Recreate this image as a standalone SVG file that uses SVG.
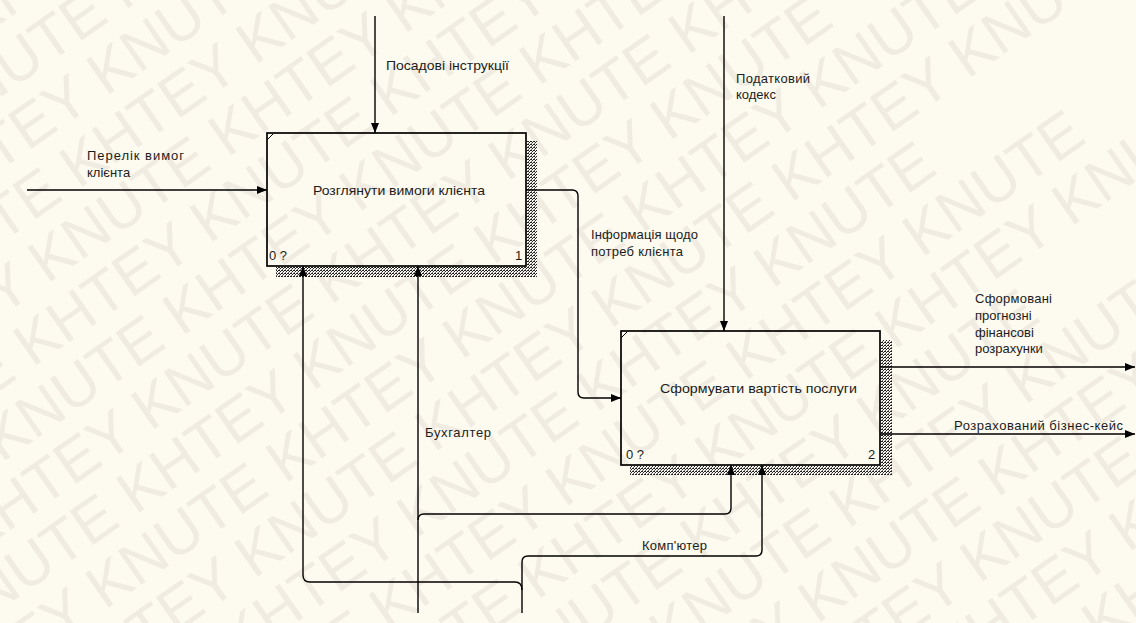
<svg xmlns="http://www.w3.org/2000/svg" xmlns:xlink="http://www.w3.org/1999/xlink" width="1136" height="623" viewBox="0 0 1136 623">
  <style>
    .lbl { font-family: "Liberation Sans", Arial, sans-serif; font-size: 13px; fill: #1c1c1c; }
    .wm { font-family: "Liberation Sans", Arial, sans-serif; font-size: 60px; fill: #f0ece2; }
    .frame { fill: none; stroke: #000; stroke-width: 1.7; }
    .tick { fill: none; stroke: #000; stroke-width: 1; }
    .shadow { fill: url(#hatch); }
    .conn path { fill: none; stroke: #000; stroke-width: 1.4; }
    .conn .arr { marker-end: url(#ah); }
  </style>
  <defs>
    <pattern id="hatch" width="3" height="3" patternUnits="userSpaceOnUse">
      <rect width="3" height="3" fill="#f6f4ec"/>
      <rect x="0" y="0" width="1" height="1" fill="#222"/>
      <rect x="2" y="0" width="1" height="1" fill="#222"/>
      <rect x="1" y="1" width="1" height="1" fill="#222"/>
      <rect x="0" y="2" width="1" height="1" fill="#666"/>
    </pattern>
    <marker id="ah" markerUnits="userSpaceOnUse" markerWidth="11" markerHeight="9" refX="10" refY="4" orient="auto">
      <path d="M0,0 L10,4 L0,8 Z" fill="#000"/>
    </marker>
    <text id="wmrow" class="wm" x="0" y="0">KNUTE KHTEY KNUTE KHTEY KNUTE KHTEY KNUTE</text>
  </defs>

  <!-- paper background with repeated faint lettering -->
  <rect width="1136" height="623" fill="#fdfaf0"/>
  <g id="watermark" transform="rotate(-35)">
    <use xlink:href="#wmrow" x="-700" y="20"/>
    <use xlink:href="#wmrow" x="-560" y="80"/>
    <use xlink:href="#wmrow" x="-840" y="140"/>
    <use xlink:href="#wmrow" x="-700" y="200"/>
    <use xlink:href="#wmrow" x="-560" y="260"/>
    <use xlink:href="#wmrow" x="-840" y="320"/>
    <use xlink:href="#wmrow" x="-700" y="380"/>
    <use xlink:href="#wmrow" x="-560" y="440"/>
    <use xlink:href="#wmrow" x="-840" y="500"/>
    <use xlink:href="#wmrow" x="-700" y="560"/>
    <use xlink:href="#wmrow" x="-560" y="620"/>
    <use xlink:href="#wmrow" x="-840" y="680"/>
    <use xlink:href="#wmrow" x="-700" y="740"/>
    <use xlink:href="#wmrow" x="-560" y="800"/>
    <use xlink:href="#wmrow" x="-840" y="860"/>
    <use xlink:href="#wmrow" x="-700" y="920"/>
    <use xlink:href="#wmrow" x="-560" y="980"/>
    <use xlink:href="#wmrow" x="-840" y="1040"/>
    <use xlink:href="#wmrow" x="-700" y="1100"/>
    <use xlink:href="#wmrow" x="-560" y="1160"/>
    <use xlink:href="#wmrow" x="-840" y="1220"/>
  </g>

  <!-- activity A1 -->
  <g id="node-a1">
    <rect class="shadow" x="527" y="141" width="10" height="136"/>
    <rect class="shadow" x="276" y="267" width="261" height="10"/>
    <rect class="frame" x="267" y="133" width="259" height="133"/>
    <path class="tick" d="M267,140 L273,134"/>
    <text class="lbl" x="313" y="195" textLength="172" lengthAdjust="spacingAndGlyphs">Розглянути вимоги клієнта</text>
    <text class="lbl" x="269" y="260">0 ?</text>
    <text class="lbl" x="515" y="260">1</text>
  </g>

  <!-- activity A2 -->
  <g id="node-a2">
    <rect class="shadow" x="881" y="340" width="11" height="135"/>
    <rect class="shadow" x="630" y="466" width="262" height="9"/>
    <rect class="frame" x="621" y="331" width="259" height="134"/>
    <path class="tick" d="M621,338 L627,332"/>
    <text class="lbl" x="660" y="393" textLength="197" lengthAdjust="spacingAndGlyphs">Сформувати вартість послуги</text>
    <text class="lbl" x="626" y="459">0 ?</text>
    <text class="lbl" x="868" y="459">2</text>
  </g>

  <!-- arrows -->
  <g id="connectors" class="conn">
    <path class="arr" d="M27,190 H267"/>
    <path class="arr" d="M375,16 V133"/>
    <path class="arr" d="M724,16 V331"/>
    <path class="arr" d="M526,190 H572 Q578,190 578,196 V392 Q578,398 584,398 H621"/>
    <path class="arr" d="M880,367 H1135"/>
    <path class="arr" d="M880,434 H1135"/>
    <path class="arr" d="M418,613 V266"/>
    <path class="arr" d="M418,520 Q418,514 424,514 H725 Q731,514 731,508 V465"/>
    <path class="arr" d="M522,613 V562 Q522,556 528,556 H756 Q762,556 762,550 V465"/>
    <path class="arr" d="M522,590 Q522,582 515,582 H310 Q303,582 303,575 V266"/>
  </g>

  <!-- arrow labels -->
  <g id="labels">
    <text class="lbl" x="87" y="160" textLength="97" lengthAdjust="spacing">Перелік вимог</text>
    <text class="lbl" x="87" y="177">клієнта</text>
    <text class="lbl" x="386" y="70" textLength="123" lengthAdjust="spacingAndGlyphs">Посадові інструкції</text>
    <text class="lbl" x="736" y="83" textLength="74" lengthAdjust="spacing">Податковий</text>
    <text class="lbl" x="736" y="99">кодекс</text>
    <text class="lbl" x="591" y="239" textLength="107" lengthAdjust="spacing">Інформація щодо</text>
    <text class="lbl" x="591" y="256" textLength="92" lengthAdjust="spacing">потреб клієнта</text>
    <text class="lbl" x="975" y="303" textLength="77" lengthAdjust="spacing">Сформовані</text>
    <text class="lbl" x="975" y="320">прогнозні</text>
    <text class="lbl" x="975" y="337">фінансові</text>
    <text class="lbl" x="975" y="353">розрахунки</text>
    <text class="lbl" x="954" y="430" textLength="169" lengthAdjust="spacing">Розрахований бізнес-кейс</text>
    <text class="lbl" x="425" y="437" textLength="66" lengthAdjust="spacing">Бухгалтер</text>
    <text class="lbl" x="642" y="550" textLength="65" lengthAdjust="spacing">Комп'ютер</text>
  </g>
</svg>
